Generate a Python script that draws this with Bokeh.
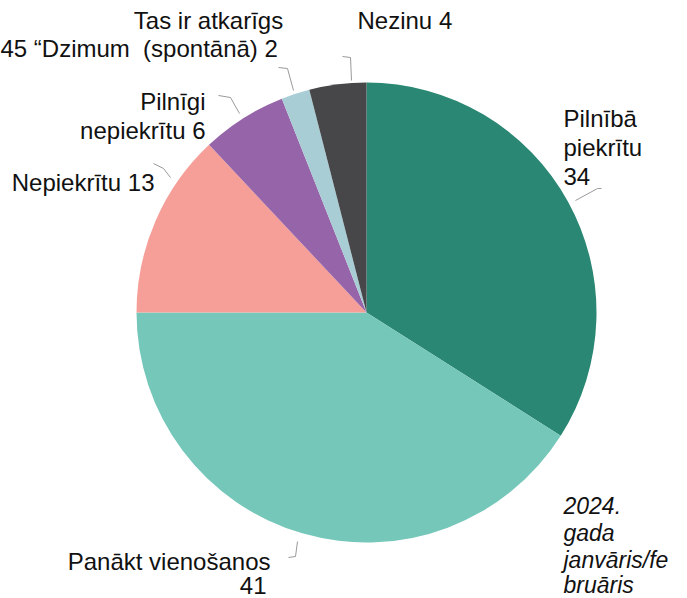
import numpy as np
from bokeh.plotting import figure
from bokeh.models import ColumnDataSource, Range1d
from bokeh.core.properties import value
from bokeh.embed import file_html
from bokeh.resources import INLINE

# ---- data ----
categories = ["Pilnībā piekrītu", "Panākt vienošanos", "Nepiekrītu",
              "Pilnīgi nepiekrītu", "Tas ir atkarīgs (spontānā)", "Nezinu"]
values = [34, 41, 13, 6, 2, 4]
colors = ["#2a8773", "#75c7b9", "#f59f98", "#9664a8", "#a9cdd5", "#47474a"]

label_lines = ["Tas ir atkarīgs", "(spontānā) 2", "45 \u201cDzimum", "Nezinu 4",
               "Pilnīgi", "nepiekrītu 6", "Nepiekrītu 13",
               "Pilnībā", "piekrītu", "34", "Panākt vienošanos", "41"]
label_x = [208, 210, 0, 357, 205, 205, 154, 563, 563, 563, 270, 266]
label_y = [20, 48, 48, 20, 101, 130, 182, 118, 147, 176, 561, 585]
label_align = ["center", "center", "left", "left", "right", "right", "right",
               "left", "left", "left", "right", "right"]

note_lines = ["2024.", "gada", "janvāris/fe", "bruāris"]
note_x = [563, 563, 563, 563]
note_y = [505, 532, 559, 584]

leader_xs = [[575, 597, 601], [297, 295, 288], [170, 163, 153],
             [239, 230, 218], [293, 287, 278], [351, 350, 342]]
leader_ys = [[200, 188, 188], [541, 556, 557], [177, 168, 163],
             [113, 97, 95], [90, 68, 67], [80, 57, 56]]

# ---- pie geometry ----
cx, cy, r = 366, 312, 230
total = float(sum(values))
cum = np.cumsum([0] + values) / total * 2 * np.pi
start = [np.pi / 2 - a for a in cum[:-1]]
end = [np.pi / 2 - a for a in cum[1:]]

src = ColumnDataSource(dict(cat=categories, val=values, color=colors,
                            start=start, end=end))

p = figure(width=687, height=598, output_backend="svg", toolbar_location=None,
           x_range=Range1d(0, 687), y_range=Range1d(598, 0), min_border=0)
p.axis.visible = False
p.grid.visible = False
p.outline_line_color = None
p.background_fill_color = "white"
p.border_fill_color = "white"

p.wedge(x=cx, y=cy, radius=r, start_angle="start", end_angle="end",
        direction="clock", fill_color="color", line_color=None, source=src)

p.multi_line(xs=leader_xs, ys=leader_ys, line_color="#9a9a9a", line_width=1)

lsrc = ColumnDataSource(dict(x=label_x, y=label_y, t=label_lines, a=label_align))
p.text(x="x", y="y", text="t", text_align="a", text_baseline="middle",
       text_font=value("Liberation Sans"), text_font_size="24px",
       text_color="#111111", source=lsrc)

nsrc = ColumnDataSource(dict(x=note_x, y=note_y, t=note_lines))
p.text(x="x", y="y", text="t", text_align="left", text_baseline="middle",
       text_font=value("Liberation Sans"), text_font_size="23px",
       text_font_style="italic", text_color="#111111", source=nsrc)

open("out.html", "w").write(file_html(p, INLINE))
